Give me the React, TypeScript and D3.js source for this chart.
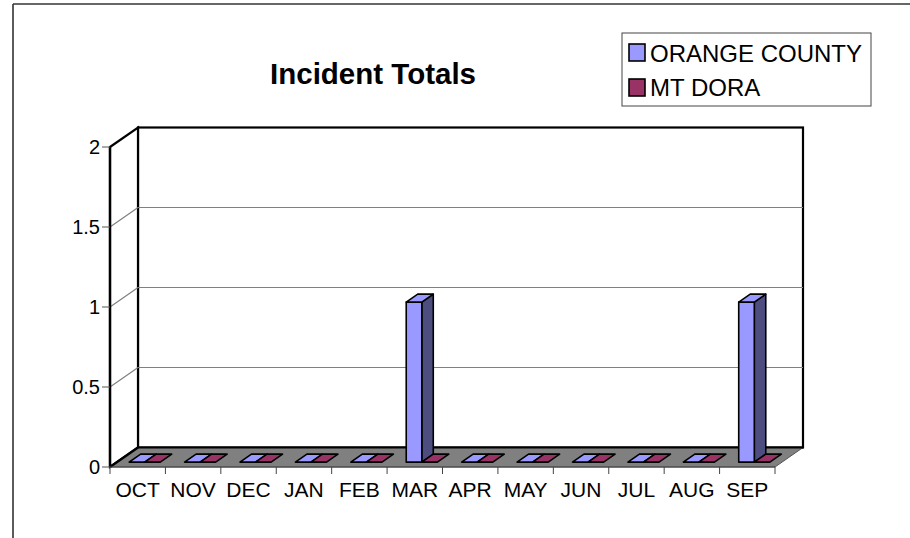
import { FC } from "react";
import * as d3 from "d3";

const WIDTH = 910;
const HEIGHT = 538;
const FONT = "'Liberation Sans', Arial, sans-serif";

// data
const months = ["OCT", "NOV", "DEC", "JAN", "FEB", "MAR", "APR", "MAY", "JUN", "JUL", "AUG", "SEP"];
const orangeCounty = [0, 0, 0, 0, 0, 1, 0, 0, 0, 0, 0, 1];
const mtDora = [0, 0, 0, 0, 0, 0, 0, 0, 0, 0, 0, 0];
const seriesNames = ["ORANGE COUNTY", "MT DORA"];
const yTicks = [0, 0.5, 1, 1.5, 2];

// colours per series: front/top face, side face
const FACE = ["#9999FF", "#993366"];
const SIDE = ["#4D4D80", "#4D1A33"];

// plot frame (front plane) + depth offset
const FRONT = { left: 110, right: 775, top: 147, bottom: 467 };
const DEPTH = { dx: 28, dy: -19.5 };
const BAR_Z = [0.25, 0.66];

const App: FC = () => {
  const xScale = d3.scaleBand<string>().domain(months).range([FRONT.left, FRONT.right]).padding(0);
  const inner = d3
    .scaleBand<string>()
    .domain(seriesNames)
    .range([0, xScale.bandwidth()])
    .paddingInner(0)
    .paddingOuter(0.78);
  const yScale = d3.scaleLinear().domain([0, 2]).range([FRONT.bottom, FRONT.top]);
  const zx = d3.scaleLinear().domain([0, 1]).range([0, DEPTH.dx]);
  const zy = d3.scaleLinear().domain([0, 1]).range([0, DEPTH.dy]);

  const pt = (x: number, y: number, z: number) => `${x + zx(z)},${y + zy(z)}`;

  const backLeft = FRONT.left + DEPTH.dx;
  const backRight = FRONT.right + DEPTH.dx;
  const backTop = FRONT.top + DEPTH.dy;
  const backBottom = FRONT.bottom + DEPTH.dy;

  // floor
  const floor = [
    pt(FRONT.left, FRONT.bottom, 0),
    pt(FRONT.right, FRONT.bottom, 0),
    pt(FRONT.right, FRONT.bottom, 1),
    pt(FRONT.left, FRONT.bottom, 1),
  ].join(" ");

  const sideWall = [
    pt(FRONT.left, FRONT.top, 0),
    pt(FRONT.left, FRONT.top, 1),
    pt(FRONT.left, FRONT.bottom, 1),
    pt(FRONT.left, FRONT.bottom, 0),
  ].join(" ");

  const grid = yTicks.slice(1, -1).map((t, i) => (
    <g key={i}>
      <line x1={backLeft} x2={backRight} y1={yScale(t) + DEPTH.dy} y2={yScale(t) + DEPTH.dy} stroke="#808080" strokeWidth={1.2} />
      <line x1={FRONT.left} x2={backLeft} y1={yScale(t)} y2={yScale(t) + DEPTH.dy} stroke="#808080" strokeWidth={1.2} />
    </g>
  ));

  const seriesValues = [orangeCounty, mtDora];
  const bars = months.map((m, i) => (
    <g key={m}>
      {seriesValues.map((vals, s) => {
        const x0 = (xScale(m) ?? 0) + (inner(seriesNames[s]) ?? 0);
        const x1 = x0 + inner.bandwidth();
        const yb = yScale(0);
        const yt = yScale(vals[i]);
        const [z0, z1] = BAR_Z;
        const front = [pt(x0, yt, z0), pt(x1, yt, z0), pt(x1, yb, z0), pt(x0, yb, z0)].join(" ");
        const top = [pt(x0, yt, z0), pt(x1, yt, z0), pt(x1, yt, z1), pt(x0, yt, z1)].join(" ");
        const side = [pt(x1, yt, z0), pt(x1, yt, z1), pt(x1, yb, z1), pt(x1, yb, z0)].join(" ");
        return (
          <g key={s} stroke="#000" strokeWidth={1.6} strokeLinejoin="round">
            {vals[i] > 0 && <polygon points={side} fill={SIDE[s]} />}
            {vals[i] > 0 && <polygon points={front} fill={FACE[s]} />}
            <polygon points={top} fill={FACE[s]} />
          </g>
        );
      })}
    </g>
  ));

  const xTicks = [...months.map((m) => xScale(m) ?? 0), FRONT.right];

  return (
    <svg width={WIDTH} height={HEIGHT} style={{ position: "absolute", left: 0, top: 0, background: "#fff" }} fontFamily={FONT}>
      {/* outer frame */}
      <line x1={13} x2={WIDTH} y1={4} y2={4} stroke="#333" strokeWidth={1.6} />
      <line x1={13} x2={13} y1={4} y2={HEIGHT} stroke="#333" strokeWidth={1.6} />

      {/* walls */}
      <rect x={backLeft} y={backTop} width={backRight - backLeft} height={backBottom - backTop} fill="#fff" stroke="#000" strokeWidth={2.2} />
      <polygon points={sideWall} fill="#fff" stroke="#000" strokeWidth={2.2} />
      {grid}
      <polygon points={floor} fill="#808080" stroke="#555" strokeWidth={1} />
      <line x1={FRONT.left} x2={backLeft} y1={FRONT.bottom} y2={backBottom} stroke="#000" strokeWidth={2.2} />
      <line x1={backLeft} x2={backRight} y1={backBottom} y2={backBottom} stroke="#000" strokeWidth={2} />
      <line x1={FRONT.left} x2={FRONT.left} y1={FRONT.top} y2={FRONT.bottom} stroke="#000" strokeWidth={2.4} />

      {bars}

      {/* y axis */}
      {yTicks.map((t) => (
        <g key={t}>
          <line x1={FRONT.left - 8} x2={FRONT.left} y1={yScale(t)} y2={yScale(t)} stroke="#555" strokeWidth={1} />
          <text x={100} y={yScale(t)} dy="0.36em" textAnchor="end" fontSize={20} fill="#000">
            {t}
          </text>
        </g>
      ))}

      {/* x axis */}
      <line x1={FRONT.left} x2={FRONT.right} y1={FRONT.bottom} y2={FRONT.bottom} stroke="#444" strokeWidth={1} />
      {xTicks.map((x, i) => (
        <line key={i} x1={x} x2={x} y1={FRONT.bottom} y2={FRONT.bottom + 7} stroke="#444" strokeWidth={1} />
      ))}
      {months.map((m) => (
        <text key={m} x={(xScale(m) ?? 0) + xScale.bandwidth() / 2} y={497} textAnchor="middle" fontSize={21} fill="#000">
          {m}
        </text>
      ))}

      {/* title */}
      <text x={373} y={84} textAnchor="middle" fontSize={29.5} fontWeight="bold" fill="#000">
        Incident Totals
      </text>

      {/* legend */}
      <rect x={622} y={33} width={249} height={73} fill="#fff" stroke="#444" strokeWidth={1} />
      {seriesNames.map((name, s) => (
        <g key={name}>
          <rect x={629} y={44 + s * 35} width={16} height={17} fill={FACE[s]} stroke="#000" strokeWidth={1.6} />
          <text x={650} y={62 + s * 34} fontSize={24} fill="#000">
            {name}
          </text>
        </g>
      ))}
    </svg>
  );
};

export default App;
